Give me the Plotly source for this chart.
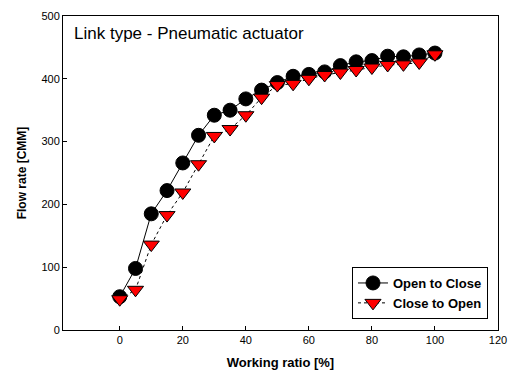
import plotly.graph_objects as go

working_ratio = [0, 5, 10, 15, 20, 25, 30, 35, 40, 45, 50, 55, 60, 65, 70, 75, 80, 85, 90, 95, 100]
open_to_close = [53, 98, 185, 222, 266, 310, 342, 350, 368, 382, 394, 404, 407, 411, 421, 427, 429, 436, 435, 438, 441]
close_to_open = [49, 64, 136, 183, 219, 264, 309, 320, 342, 370, 390, 392, 400, 406, 410, 414, 418, 422, 423, 426, 439]

font = "Liberation Sans, Arial, sans-serif"

fig = go.Figure()
fig.add_trace(go.Scatter(
    x=working_ratio, y=open_to_close, name="Open to Close",
    mode="lines+markers",
    line=dict(color="black", width=1),
    marker=dict(symbol="circle", size=14, color="black", line=dict(color="black", width=1)),
))
fig.add_trace(go.Scatter(
    x=working_ratio, y=close_to_open, name="Close to Open",
    mode="lines+markers",
    line=dict(color="black", width=1, dash="dot"),
    marker=dict(symbol="triangle-down", size=14, color="red", line=dict(color="black", width=1)),
))

fig.add_annotation(
    text="Link type - Pneumatic actuator", xref="paper", yref="paper",
    x=0.02, y=0.98, xanchor="left", yanchor="top", showarrow=False,
    font=dict(family=font, size=17, color="black"),
)

fig.update_layout(
    width=517, height=383,
    margin=dict(l=63, r=10, t=11, b=53),
    paper_bgcolor="white", plot_bgcolor="white",
    font=dict(family=font, size=11, color="black"),
    showlegend=True,
    legend=dict(
        x=0.977, y=0.035, xanchor="right", yanchor="bottom",
        bordercolor="black", borderwidth=1, bgcolor="white",
        font=dict(family=font, size=13, color="black", weight="bold"),
        tracegroupgap=0, itemwidth=30,
    ),
    xaxis=dict(
        range=[-18, 120], tickvals=[0, 20, 40, 60, 80, 100, 120],
        ticks="inside", ticklen=4, tickcolor="black",
        showline=True, linecolor="black", linewidth=1, mirror=True,
        showgrid=False, zeroline=False,
        title=dict(text="<b>Working ratio [%]</b>", font=dict(family=font, size=13), standoff=12),
    ),
    yaxis=dict(
        range=[0, 500], tickvals=[0, 100, 200, 300, 400, 500],
        ticks="inside", ticklen=4, tickcolor="black",
        showline=True, linecolor="black", linewidth=1, mirror=True,
        showgrid=False, zeroline=False,
        title=dict(text="<b>Flow rate [CMM]</b>", font=dict(family=font, size=12), standoff=12),
    ),
)

fig.write_html("out.html", config={"displayModeBar": False},
               post_script="document.body.style.margin='0';")
